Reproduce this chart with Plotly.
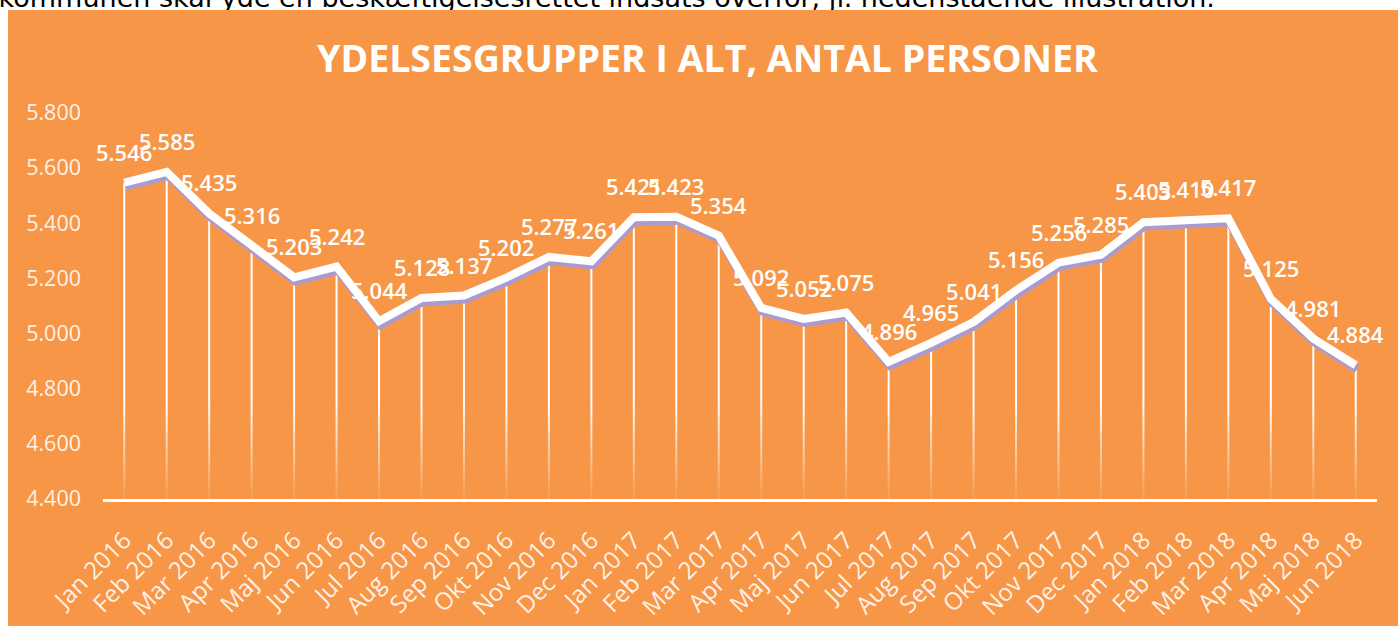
import plotly.graph_objects as go

# ---------------- data ----------------
months = ["Jan 2016", "Feb 2016", "Mar 2016", "Apr 2016", "Maj 2016", "Jun 2016",
          "Jul 2016", "Aug 2016", "Sep 2016", "Okt 2016", "Nov 2016", "Dec 2016",
          "Jan 2017", "Feb 2017", "Mar 2017", "Apr 2017", "Maj 2017", "Jun 2017",
          "Jul 2017", "Aug 2017", "Sep 2017", "Okt 2017", "Nov 2017", "Dec 2017",
          "Jan 2018", "Feb 2018", "Mar 2018", "Apr 2018", "Maj 2018", "Jun 2018"]
persons = [5546, 5585, 5435, 5316, 5203, 5242, 5044, 5128, 5137, 5202, 5277, 5261,
           5421, 5423, 5354, 5092, 5052, 5075, 4896, 4965, 5041, 5156, 5256, 5285,
           5403, 5410, 5417, 5125, 4981, 4884]
y_ticks = [4400, 4600, 4800, 5000, 5200, 5400, 5600, 5800]
chart_title = "YDELSESGRUPPER I ALT, ANTAL PERSONER"
intro_text = "kommunen skal yde en beskæftigelsesrettet indsats overfor, jf. nedenstående illustration."

# ---------------- style ----------------
W, H = 1398, 626
ORANGE = "#F79646"
SHADOW = "#A99BD0"
PALE = "#FFF1E6"
NUM_FONT = "Open Sans"

x_idx = list(range(len(months)))
x_range = [-0.5, len(months) - 0.5]
y_min, y_max = y_ticks[0], y_ticks[-1]
px_per_unit = (498.7 - 112.7) / (y_max - y_min)
shadow_drop = 4 / px_per_unit

fig = go.Figure()

# drop lines from each point to the axis
dx, dy = [], []
for i, v in zip(x_idx, persons):
    dx += [i, i, None]
    dy += [y_min, v, None]
fig.add_trace(go.Scatter(x=dx, y=dy, mode="lines",
                         line=dict(color="white", width=2),
                         hoverinfo="skip", showlegend=False))

# fade of the drop lines near the axis
fade_top = y_min + 0.25 * (y_max - y_min)
fig.add_trace(go.Scatter(
    x=[x_range[0], x_range[1], x_range[1], x_range[0], x_range[0]],
    y=[y_min, y_min, fade_top, fade_top, y_min],
    mode="lines", line=dict(width=0), fill="toself",
    fillgradient=dict(type="vertical",
                      colorscale=[[0, "rgba(247,150,70,0.95)"], [1, "rgba(247,150,70,0)"]],
                      start=y_min, stop=fade_top),
    hoverinfo="skip", showlegend=False))

# shadow line
fig.add_trace(go.Scatter(x=[i + 0.03 for i in x_idx], y=[v - shadow_drop for v in persons],
                         mode="lines", line=dict(color=SHADOW, width=8),
                         hoverinfo="skip", showlegend=False))
# main line
fig.add_trace(go.Scatter(x=x_idx, y=persons, mode="lines",
                         line=dict(color="white", width=8),
                         showlegend=False))

# top cut-off body text, clipped to the strip above the chart
fig.add_trace(go.Scatter(x=[-0.001], y=[9.4], mode="text", text=[intro_text],
                         textposition="middle right",
                         textfont=dict(family="DejaVu Sans", size=27, color="black"),
                         xaxis="x2", yaxis="y2", cliponaxis=True,
                         hoverinfo="skip", showlegend=False))

annotations = []
for i, v in zip(x_idx, persons):
    annotations.append(dict(x=i, y=v, xref="x", yref="y", text=f"{v:,}".replace(",", "."),
                            showarrow=False, yshift=31, xanchor="center", yanchor="middle",
                            font=dict(family=NUM_FONT, size=22, color="white", weight=600)))
annotations.append(dict(x=707 / W, y=(H - 57.5) / H, xref="paper", yref="paper",
                        text=chart_title, showarrow=False, xanchor="center", yanchor="middle",
                        font=dict(family="Open Sans", size=37.5, color="white", weight=700)))

fig.update_layout(
    width=W, height=H, autosize=False,
    margin=dict(l=0, r=0, t=0, b=0, pad=0),
    paper_bgcolor="white", plot_bgcolor="rgba(0,0,0,0)",
    separators=",.",
    showlegend=False,
    shapes=[dict(type="rect", xref="paper", yref="paper",
                 x0=8 / W, x1=1, y0=0, y1=(H - 10) / H,
                 fillcolor=ORANGE, line=dict(width=0), layer="below")],
    annotations=annotations,
    xaxis=dict(domain=[103 / W, 1377 / W], range=x_range,
               tickmode="array", tickvals=x_idx, ticktext=months, tickangle=-45,
               tickfont=dict(family=NUM_FONT, size=24, color=PALE),
               showgrid=False, zeroline=False, showline=True,
               linecolor="white", linewidth=3, ticks="", automargin=False,
               ticklabelstandoff=15, fixedrange=True),
    yaxis=dict(domain=[(H - 498.7) / H, (H - 112.7) / H], range=[y_min, y_max],
               tickmode="array", tickvals=y_ticks, tickformat=",d",
               tickfont=dict(family=NUM_FONT, size=21.5, color=PALE),
               showgrid=False, zeroline=False, showline=False, ticks="",
               ticklabelstandoff=21, automargin=False, fixedrange=True),
    xaxis2=dict(domain=[0, 1], anchor="y2", range=[0, 1], visible=False, fixedrange=True),
    yaxis2=dict(domain=[(H - 10) / H, 1], anchor="x2", range=[0, 10], visible=False,
                fixedrange=True),
)

fig.write_html("out.html", config={"displayModeBar": False},
               post_script="document.body.style.margin='0';document.body.style.overflow='hidden';")
